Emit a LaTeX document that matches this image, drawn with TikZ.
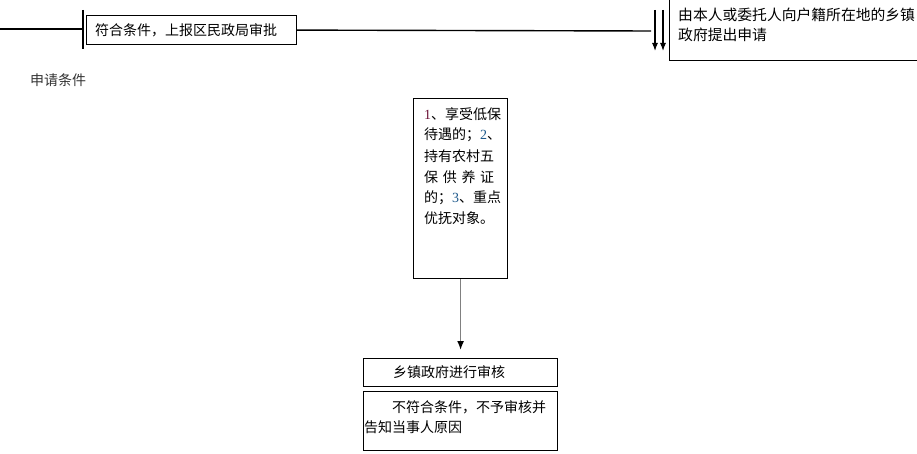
\documentclass[tikz,border=0pt]{standalone}
\usepackage{fontspec}
\setmainfont{Noto Sans CJK SC}
\newfontfamily\numfont{Liberation Serif}
\usetikzlibrary{arrows.meta}
\definecolor{numred}{HTML}{6A1036}
\definecolor{numblue}{HTML}{1F5A8C}
\definecolor{labelgray}{HTML}{333333}
\begin{document}
\begin{tikzpicture}[x=1pt,y=-1pt,
  box/.style={draw=black,line width=1.2pt,inner sep=0pt,anchor=north west},
  txt/.style={inner sep=0pt,anchor=west,font=\fontsize{14}{20}\selectfont},
  conn/.style={line width=1.4pt,black},
  arr/.style={line width=1.1pt,-{Latex[length=8pt,width=6pt]}},
]
\useasboundingbox (0,0) rectangle (917,454);
% top-left box
\node[box,minimum width=210pt,minimum height=29pt] (b1) at (86,15) {};
\node[txt] (t1) at (95,30) {符合条件，上报区民政局审批};
% thick bar
\coordinate (bartop) at (83,10);
\coordinate (barbot) at (83,49);
\draw[line width=2.5pt] (bartop) -- (barbot);
\coordinate (lstart) at (0,29);
\coordinate (lend) at (83,29);
\draw[conn] (lstart) -- (lend);
% right box
\node[box,minimum width=260pt,minimum height=62pt] (b2) at (669,-2) {};
\node[txt,font=\fontsize{14.8}{20}\selectfont] (t2a) at (678,15) {由本人或委托人向户籍所在地的乡镇};
\node[txt,font=\fontsize{14.8}{20}\selectfont] (t2b) at (678,35) {政府提出申请};
\coordinate (lineend) at (651,31);
\draw[conn] (b1.east) -- (lineend);
% double arrows
\coordinate (a1s) at (655,10);
\coordinate (a1e) at (655,51);
\coordinate (a2s) at (663,10);
\coordinate (a2e) at (663,51);
\draw[arr] (a1s) -- (a1e);
\draw[arr] (a2s) -- (a2e);
% label
\node[txt,text=labelgray] (lab) at (30,80) {申请条件};
% middle box
\node[box,minimum width=94pt,minimum height=180pt] (b3) at (413,98) {};
\node[txt] (m1) at (424,114) {{\numfont\color{numred}1}、享受低保};
\node[txt] (m2) at (424,135) {待遇的；{\numfont\color{numblue}2}、};
\node[txt] (m3) at (424,156) {持有农村五};
\node[txt] (m4) at (424,177) {\makebox[70pt][s]{保\hfill 供\hfill 养\hfill 证}};
\node[txt] (m5) at (424,198) {的；{\numfont\color{numblue}3}、重点};
\node[txt] (m6) at (424,218) {优抚对象。};
% bottom boxes
\node[box,minimum width=194pt,minimum height=28pt] (b4) at (363,358) {};
\node[txt] (t4) at (393,372) {乡镇政府进行审核};
\node[box,minimum width=194pt,minimum height=59pt] (b5) at (363,391) {};
\node[txt] (t5a) at (392,407) {不符合条件，不予审核并};
\node[txt] (t5b) at (364,427) {告知当事人原因};
% middle arrow
\coordinate (marrend) at ([yshift=8pt]b4.north);
\draw[line width=1.5pt,draw=gray,-{Latex[black,length=9pt,width=7pt]}] (b3.south) -- (marrend);
\end{tikzpicture}
\end{document}
